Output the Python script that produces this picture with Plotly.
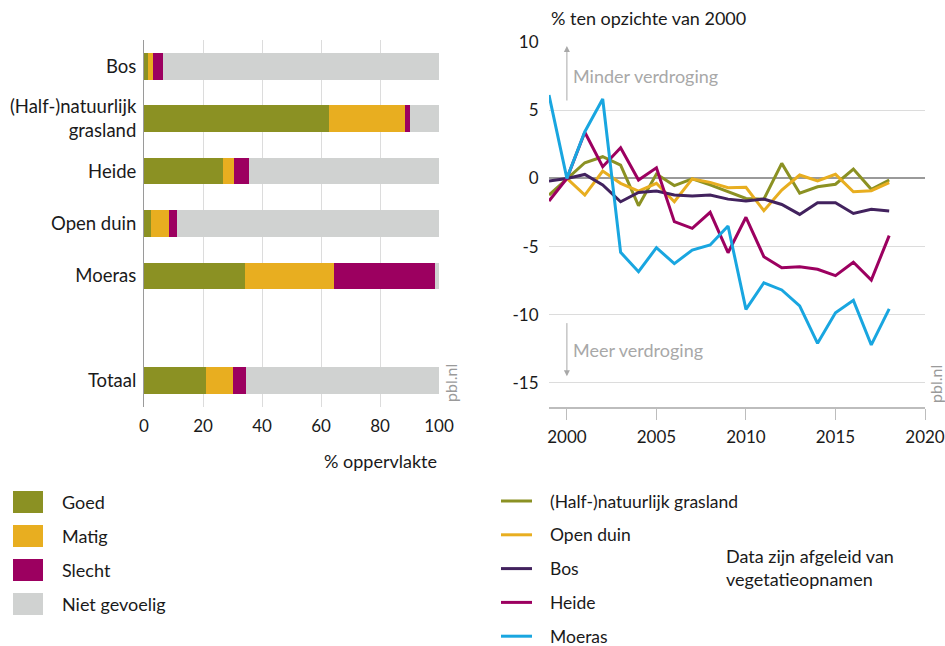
import plotly.graph_objects as go

# ---------------- data ----------------
categories = ["Bos", "(Half-)natuurlijk<br>grasland", "Heide", "Open duin", "Moeras", "Totaal"]
cat_pos = [0, 1, 2, 3, 4, 6]
classes = ["Goed", "Matig", "Slecht", "Niet gevoelig"]
goed = [1.5, 62.8, 26.8, 2.4, 34.2, 20.9]
matig = [1.6, 25.7, 3.7, 6.2, 30.2, 9.4]
slecht = [3.2, 1.5, 5.2, 2.6, 34.1, 4.2]
niet_gevoelig = [93.7, 10.0, 64.3, 88.8, 1.5, 65.5]
class_colors = ["#8B9123", "#E8AE20", "#9C0060", "#D0D2D1"]

years = list(range(1999, 2019))
series_names = ["(Half-)natuurlijk grasland", "Open duin", "Bos", "Heide", "Moeras"]
grasland = [-1.22, 0, 1.15, 1.59, 0.98, -2.0, 0.32, -0.53, -0.04, -0.48,
            -0.98, -1.47, -1.53, 1.1, -1.09, -0.61, -0.43, 0.69, -0.8, -0.12]
open_duin = [None, 0, -1.22, 0.54, -0.36, -0.93, -0.36, -1.71, -0.04, -0.29,
             -0.68, -0.65, -2.37, -0.85, 0.25, -0.19, 0.3, -0.98, -0.9, -0.31]
bos = [-0.19, 0, 0.29, -0.48, -1.71, -1.03, -0.92, -1.22, -1.29, -1.22,
       -1.52, -1.66, -1.52, -1.91, -2.64, -1.79, -1.79, -2.57, -2.27, -2.39]
heide = [-1.66, 0, 3.38, 0.86, 2.25, -0.12, 0.78, -3.17, -3.66, -2.49,
         -5.45, -2.85, -5.74, -6.55, -6.47, -6.66, -7.13, -6.15, -7.45, -4.2]
moeras = [6.11, 0, 3.42, 5.82, -5.42, -6.84, -5.08, -6.25, -5.25, -4.88,
          -3.49, -9.6, -7.65, -8.18, -9.35, -12.09, -9.85, -8.94, -12.21, -9.57]
series_values = [grasland, open_duin, bos, heide, moeras]
series_colors = ["#8B9123", "#E8AE20", "#42225E", "#9C0060", "#19A6E0"]

x_ticks_left = [0, 20, 40, 60, 80, 100]
x_ticks_right = [2000, 2005, 2010, 2015, 2020]
y_ticks_right = [10, 5, 0, -5, -10, -15]
y_ticktext_right = [str(v) for v in y_ticks_right]

FONT = "Lato"
W, H = 945, 646

fig = go.Figure()

# ---------------- left: stacked bars ----------------
for name, vals, col in zip(classes, [goed, matig, slecht, niet_gevoelig], class_colors):
    fig.add_trace(go.Bar(
        y=cat_pos, x=vals, orientation="h", name=name,
        marker=dict(color=col, line=dict(width=0)),
        width=0.51, xaxis="x", yaxis="y", showlegend=False,
        hovertemplate="%{x}<extra>" + name + "</extra>",
    ))

# ---------------- right: lines ----------------
for name, vals, col in zip(series_names, series_values, series_colors):
    fig.add_trace(go.Scatter(
        x=years, y=vals, mode="lines", name=name,
        line=dict(color=col, width=3), xaxis="x2", yaxis="y2",
        showlegend=False, connectgaps=False,
    ))

def px_x(p):
    return p / W

def px_y(p):
    return 1 - p / H

fig.update_layout(
    width=W, height=H, autosize=False,
    margin=dict(l=0, r=0, t=0, b=0, pad=0),
    paper_bgcolor="white", plot_bgcolor="white",
    font=dict(family=FONT, size=17, color="#1a1a1a"),
    barmode="stack",
    xaxis=dict(
        domain=[px_x(144), px_x(439)], range=[0, 100], automargin=False,
        tickvals=x_ticks_left, ticks="outside", ticklen=4, tickcolor="white",
        showgrid=True, gridcolor="#DCDCDC", gridwidth=1,
        zeroline=False, showline=False,
        tickfont=dict(size=17), anchor="y",
    ),
    yaxis=dict(
        domain=[px_y(407), px_y(40)], range=[6.5, -0.5], automargin=False,
        tickvals=cat_pos, ticktext=categories,
        ticks="outside", ticklen=3, tickcolor="white",
        showgrid=False, zeroline=False,
        showline=True, linecolor="#9A9A9A", linewidth=1,
        tickfont=dict(size=18.5), anchor="x",
    ),
    xaxis2=dict(
        domain=[px_x(549), px_x(925)], range=[1999, 2020], automargin=False,
        tickvals=x_ticks_right, ticks="outside", ticklen=11, tickcolor="#BDBDBD",
        ticklabelstandoff=3,
        showgrid=False, zeroline=False,
        showline=True, linecolor="#BDBDBD", linewidth=1.5,
        tickfont=dict(size=17), anchor="y2",
    ),
    yaxis2=dict(
        domain=[px_y(407), px_y(42)], range=[-16.76, 10], automargin=False,
        tickvals=y_ticks_right, ticktext=y_ticktext_right,
        ticks="outside", ticklen=6, tickcolor="white",
        showgrid=True, gridcolor="#DCDCDC", gridwidth=1,
        zeroline=True, zerolinecolor="#9A9A9A", zerolinewidth=1.5,
        showline=False, tickfont=dict(size=17), anchor="x2",
    ),
)

annotations = []
shapes = []

# axis titles
annotations.append(dict(text="% oppervlakte", x=px_x(439), y=px_y(461), xref="paper", yref="paper",
                        xanchor="right", yanchor="middle", showarrow=False, font=dict(size=18)))
annotations.append(dict(text="% ten opzichte van 2000", x=px_x(549), y=px_y(18), xref="paper", yref="paper",
                        xanchor="left", yanchor="middle", showarrow=False, font=dict(size=18)))

# pbl.nl
for xp, yp in [(450, 383), (935, 384)]:
    annotations.append(dict(text="pbl.nl", x=px_x(xp), y=px_y(yp), xref="paper", yref="paper",
                            textangle=-90, showarrow=False, font=dict(size=16, color="#9A9A9A"),
                            xanchor="center", yanchor="middle"))

# direction annotations
annotations.append(dict(text="Minder verdroging", x=px_x(571), y=px_y(76), xref="paper", yref="paper",
                        xanchor="left", yanchor="middle", showarrow=False,
                        font=dict(size=18, color="#A8A8A8")))
annotations.append(dict(text="Meer verdroging", x=px_x(571), y=px_y(350), xref="paper", yref="paper",
                        xanchor="left", yanchor="middle", showarrow=False,
                        font=dict(size=18, color="#A8A8A8")))
annotations.append(dict(text="", x=2000, y=9.7, xref="x2", yref="y2", ax=2000, ay=5.6,
                        axref="x2", ayref="y2", showarrow=True, arrowhead=2, arrowsize=1.2,
                        arrowwidth=1, arrowcolor="#A8A8A8"))
annotations.append(dict(text="", x=2000, y=-14.5, xref="x2", yref="y2", ax=2000, ay=-10.5,
                        axref="x2", ayref="y2", showarrow=True, arrowhead=2, arrowsize=1.2,
                        arrowwidth=1, arrowcolor="#A8A8A8"))

# left legend (classes)
for i, (name, col) in enumerate(zip(classes, class_colors)):
    yc = 502 + 34 * i
    shapes.append(dict(type="rect", xref="paper", yref="paper",
                       x0=px_x(13), x1=px_x(43), y0=px_y(yc + 11), y1=px_y(yc - 11),
                       fillcolor=col, line=dict(width=0)))
    annotations.append(dict(text=name, x=px_x(60), y=px_y(yc), xref="paper", yref="paper",
                            xanchor="left", yanchor="middle", showarrow=False, font=dict(size=18)))

# right legend (series)
for i, (name, col) in enumerate(zip(series_names, series_colors)):
    yc = 501 + 33.8 * i
    shapes.append(dict(type="line", xref="paper", yref="paper",
                       x0=px_x(501), x1=px_x(532), y0=px_y(yc), y1=px_y(yc),
                       line=dict(color=col, width=3)))
    annotations.append(dict(text=name, x=px_x(548), y=px_y(yc), xref="paper", yref="paper",
                            xanchor="left", yanchor="middle", showarrow=False, font=dict(size=17.5)))

annotations.append(dict(text="Data zijn afgeleid van<br>vegetatieopnamen", x=px_x(724), y=px_y(567),
                        xref="paper", yref="paper", xanchor="left", yanchor="middle", align="left",
                        showarrow=False, font=dict(size=18)))

fig.update_layout(annotations=annotations, shapes=shapes)

fig.write_html(
    "out.html",
    config={"displayModeBar": False, "responsive": False},
    post_script="document.body.style.margin='0';document.body.style.padding='0';"
                "document.documentElement.style.overflow='hidden';",
)
